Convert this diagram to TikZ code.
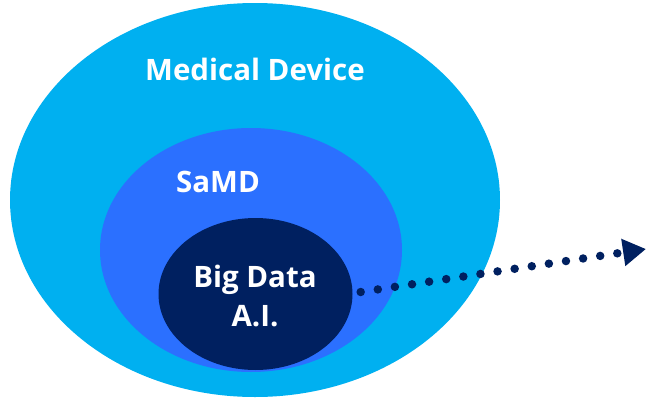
\documentclass[tikz,border=0pt]{standalone}
\usepackage{fontspec}
\setmainfont{Open Sans}
\usetikzlibrary{arrows.meta,shapes.geometric}
\definecolor{devcyan}{HTML}{00B0F0}
\definecolor{samdblue}{HTML}{2B70FF}
\definecolor{navy}{HTML}{002060}
\begin{document}
\begin{tikzpicture}[x=1pt,y=-1pt,
 ring/.style={ellipse,draw=none,inner sep=0pt},
 lab/.style={text=white,font=\fontsize{29.5}{36}\selectfont\bfseries,align=center}]
\useasboundingbox (0,0) rectangle (646,399);
\node[ring,fill=devcyan,minimum width=490pt,minimum height=394pt] (dev) at (255,200) {};
\node[ring,fill=samdblue,minimum width=302pt,minimum height=244pt] (samd) at (251,250) {};
\node[ring,fill=navy,minimum width=194pt,minimum height=152pt] (big) at (255.5,294) {};
\node[lab] (devlab) at (255,69) {Medical Device};
\node[lab] (samdlab) at (218,182) {SaMD};
\node[lab,font=\fontsize{29.5}{39}\selectfont\bfseries] (biglab) at (255,296) {Big Data\\A.I.};
\coordinate (tip) at (646,249);
\draw[navy,line width=8.5pt,line cap=round,dash pattern=on 0pt off 17.3pt,
 -{Triangle[length=23pt,width=26pt]}] ([shift={(8,-2)}]big.east) -- (tip);
\end{tikzpicture}
\end{document}
